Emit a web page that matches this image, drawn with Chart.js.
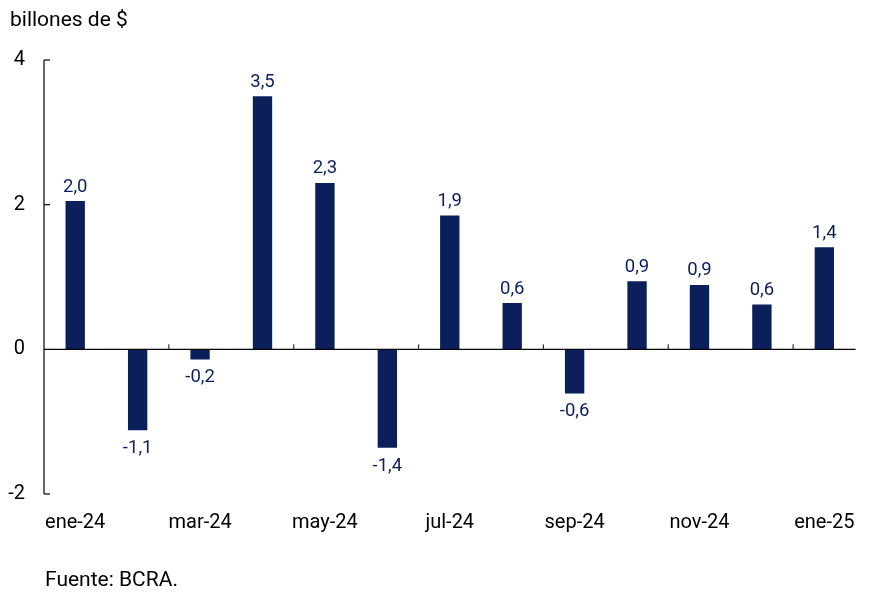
<!DOCTYPE html>
<html lang="es">
<head>
    <meta charset="UTF-8">
    <title>billones de $</title>
    <script src="https://cdn.jsdelivr.net/npm/chart.js"></script>
    <style>
        body {
            margin: 0;
            background: #fff;
            font-family: Roboto, sans-serif;
        }

        #wrap {
            position: relative;
            width: 872px;
            height: 606px;
        }

        #title {
            position: absolute;
            left: 10px;
            top: 7px;
            font-size: 21px;
            color: #000;
        }

        #source {
            position: absolute;
            left: 45px;
            top: 567px;
            font-size: 21px;
            color: #000;
        }
    </style>
</head>
<body>

    <div id="wrap">
        <canvas id="chart" width="872" height="606"></canvas>
        <div id="title">billones de $</div>
        <div id="source">Fuente: BCRA.</div>
    </div>

    <script>
        // Months (only every second one is labelled on the axis)
        var months = ['ene-24', 'feb-24', 'mar-24', 'abr-24', 'may-24', 'jun-24', 'jul-24',
                      'ago-24', 'sep-24', 'oct-24', 'nov-24', 'dic-24', 'ene-25'];

        // Bar heights
        var values = [2.05, -1.12, -0.14, 3.50, 2.30, -1.36, 1.85, 0.64, -0.61, 0.94, 0.89, 0.62, 1.41];

        // Printed value labels
        var valueLabels = ['2,0', '-1,1', '-0,2', '3,5', '2,3', '-1,4', '1,9', '0,6', '-0,6', '0,9', '0,9', '0,6', '1,4'];

        // Y axis ticks
        var yTicks = [-2, 0, 2, 4];

        var navy = '#0b1f5b';

        // Draws the axis lines, the small tick marks and the value labels
        var decorations = {
            id: 'decorations',
            afterDatasetsDraw: function (chart) {
                var ctx = chart.ctx;
                var area = chart.chartArea;
                var x = chart.scales.x;
                var y = chart.scales.y;
                var zero = y.getPixelForValue(0);

                ctx.save();
                ctx.strokeStyle = '#000';
                ctx.lineWidth = 1.2;

                // y axis line
                ctx.beginPath();
                ctx.moveTo(area.left, y.getPixelForValue(yTicks[yTicks.length - 1]));
                ctx.lineTo(area.left, y.getPixelForValue(yTicks[0]));
                ctx.stroke();

                // inner ticks on the y axis
                yTicks.forEach(function (v) {
                    if (v === 0) return;
                    var py = y.getPixelForValue(v);
                    ctx.beginPath();
                    ctx.moveTo(area.left, py);
                    ctx.lineTo(area.left + 6, py);
                    ctx.stroke();
                });

                // zero line
                ctx.beginPath();
                ctx.moveTo(area.left, zero);
                ctx.lineTo(area.right, zero);
                ctx.stroke();

                // small ticks on the zero line, every two months
                ctx.strokeStyle = '#333';
                for (var i = 1; i < months.length - 1; i += 2) {
                    var px = (x.getPixelForValue(i) + x.getPixelForValue(i + 1)) / 2;
                    ctx.beginPath();
                    ctx.moveTo(px, zero);
                    ctx.lineTo(px, zero - 5);
                    ctx.stroke();
                }

                // value labels
                ctx.fillStyle = navy;
                ctx.font = '18.5px Roboto';
                ctx.textAlign = 'center';
                ctx.textBaseline = 'alphabetic';
                chart.getDatasetMeta(0).data.forEach(function (bar, i) {
                    if (values[i] >= 0) {
                        ctx.fillText(valueLabels[i], bar.x, bar.y - 9.5);
                    } else {
                        ctx.fillText(valueLabels[i], bar.x, bar.y + 23);
                    }
                });
                ctx.restore();
            }
        };

        var chart = new Chart(document.getElementById('chart'), {
            type: 'bar',
            data: {
                labels: months,
                datasets: [{
                    data: values,
                    backgroundColor: navy,
                    borderWidth: 0,
                    barPercentage: 0.62,
                    categoryPercentage: 0.5
                }]
            },
            options: {
                responsive: false,
                animation: false,
                layout: {
                    padding: { top: 60, right: 14, bottom: 72, left: 0 }
                },
                plugins: {
                    legend: { display: false },
                    tooltip: { enabled: false }
                },
                scales: {
                    x: {
                        grid: { display: false, drawTicks: false },
                        border: { display: false },
                        ticks: {
                            autoSkip: false,
                            maxRotation: 0,
                            padding: 17,
                            color: '#000',
                            font: { family: 'Roboto', size: 20 },
                            callback: function (val, index) {
                                return index % 2 === 0 ? months[index] : '';
                            }
                        },
                        afterFit: function (scale) {
                            scale.height = 40;
                        }
                    },
                    y: {
                        min: yTicks[0],
                        max: yTicks[yTicks.length - 1],
                        grid: { display: false, drawTicks: false },
                        border: { display: false },
                        ticks: {
                            stepSize: 2,
                            padding: 19,
                            color: '#000',
                            font: { family: 'Roboto', size: 20 }
                        },
                        afterFit: function (scale) {
                            scale.width = 44;
                        }
                    }
                }
            },
            plugins: [decorations]
        });
    </script>

</body>
</html>
